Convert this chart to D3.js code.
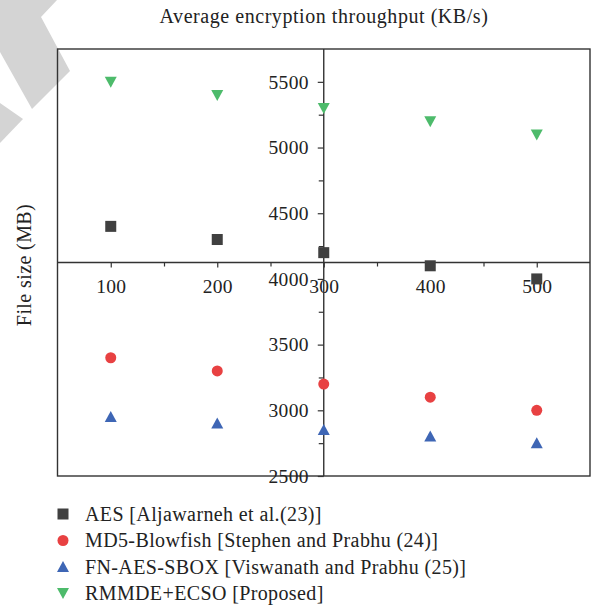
<!DOCTYPE html>
<html>
<head>
<meta charset="utf-8">
<script src="https://cdn.jsdelivr.net/npm/d3@7/dist/d3.min.js"></script>
<style>
  html, body { margin: 0; padding: 0; background: #fff; }
  svg { display: block; }
  text { font-family: "Liberation Serif", "DejaVu Serif", serif; fill: #222; }
</style>
</head>
<body>
<svg id="chart" width="597" height="607"></svg>
<script>
// File sizes (MB) on the horizontal axis
const fileSizes = [100, 200, 300, 400, 500];

// Average encryption throughput (KB/s) per method
const aesValues      = [4400, 4300, 4200, 4100, 4000];
const md5Values      = [3400, 3300, 3200, 3100, 3000];
const fnAesValues    = [2950, 2900, 2850, 2800, 2750];
const rmmdeValues    = [5500, 5400, 5300, 5200, 5100];

const seriesNames = [
  "AES [Aljawarneh et al.(23)]",
  "MD5-Blowfish [Stephen and Prabhu (24)]",
  "FN-AES-SBOX [Viswanath and Prabhu (25)]",
  "RMMDE+ECSO [Proposed]"
];

const xTicks = [100, 200, 300, 400, 500];
const xMinorTicks = [150, 250, 350, 450];
const yTicks = [2500, 3000, 3500, 4000, 4500, 5000, 5500];
const yMinorTicks = [2750, 3250, 3750, 4250, 4750, 5250];

const series = [
  { name: seriesNames[0], values: aesValues,   color: "#404040", symbol: "square" },
  { name: seriesNames[1], values: md5Values,   color: "#e84142", symbol: "circle" },
  { name: seriesNames[2], values: fnAesValues, color: "#3e66b5", symbol: "up" },
  { name: seriesNames[3], values: rmmdeValues, color: "#4dbb6b", symbol: "down" }
];

const svg = d3.select("#chart");

// light grey decorative chevron in the top-left corner
svg.append("polygon")
  .attr("points", "0,0 57,0 41,17 70,71 32,109 0,52")
  .attr("fill", "#d4d4d4");
svg.append("polygon")
  .attr("points", "0,103 23,119 0,143")
  .attr("fill", "#d4d4d4");

const frame = { left: 57.5, right: 590, top: 49, bottom: 476 };

const x = d3.scaleLinear().domain([50, 550]).range([frame.left, frame.right]);
const y = d3.scaleLinear().domain([2500, 5750]).range([frame.bottom, frame.top]);

// plot frame
svg.append("rect")
  .attr("x", frame.left).attr("y", frame.top)
  .attr("width", frame.right - frame.left).attr("height", frame.bottom - frame.top)
  .attr("fill", "none").attr("stroke", "#333").attr("stroke-width", 1.4);

const axisX = x(300);       // vertical axis crosses at x = 300
const axisY = y(4125);      // horizontal axis crosses mid-frame

const tickFont = 19.5;
const labelFont = 20;

// horizontal axis
const gx = svg.append("g").attr("transform", `translate(0,${axisY})`);
gx.call(d3.axisBottom(x).tickValues(xTicks).tickSize(5).tickPadding(12).tickFormat(d3.format("d")));
gx.append("g").call(d3.axisBottom(x).tickValues(xMinorTicks).tickSize(4).tickFormat(""));
gx.selectAll(".domain").remove();
gx.append("line").attr("x1", frame.left).attr("x2", frame.right)
  .attr("stroke", "#333").attr("stroke-width", 1.4);

// vertical axis
const gy = svg.append("g").attr("transform", `translate(${axisX},0)`);
gy.call(d3.axisLeft(y).tickValues(yTicks).tickSize(6).tickPadding(9).tickFormat(d3.format("d")));
gy.append("g").call(d3.axisLeft(y).tickValues(yMinorTicks).tickSize(5).tickFormat(""));
gy.selectAll(".domain").remove();
gy.append("line").attr("y1", frame.top).attr("y2", frame.bottom)
  .attr("stroke", "#333").attr("stroke-width", 1.4);

svg.selectAll(".tick line").attr("stroke", "#333").attr("stroke-width", 1.2);
svg.selectAll(".tick text")
  .style("font-family", '"Liberation Serif", "DejaVu Serif", serif')
  .style("font-size", tickFont + "px")
  .style("letter-spacing", "0.3px")
  .attr("fill", "#222");

// title and axis label
svg.append("text")
  .attr("x", 324).attr("y", 23)
  .attr("text-anchor", "middle")
  .style("font-size", labelFont + "px")
  .style("letter-spacing", "0.55px")
  .text("Average encryption throughput (KB/s)");

svg.append("text")
  .attr("transform", `translate(31,${265}) rotate(-90)`)
  .attr("text-anchor", "middle")
  .style("font-size", labelFont + "px")
  .style("letter-spacing", "0.4px")
  .text("File size (MB)");

// marker shapes
function drawMarker(g, symbol, cx, cy, color) {
  if (symbol === "square") {
    g.append("rect").attr("x", cx - 5.5).attr("y", cy - 5.5)
      .attr("width", 11).attr("height", 11).attr("fill", color);
  } else if (symbol === "circle") {
    g.append("circle").attr("cx", cx).attr("cy", cy).attr("r", 5.5).attr("fill", color);
  } else if (symbol === "up") {
    g.append("path")
      .attr("d", `M${cx},${cy - 6} L${cx + 6},${cy + 5} L${cx - 6},${cy + 5} Z`)
      .attr("fill", color);
  } else {
    g.append("path")
      .attr("d", `M${cx - 6},${cy - 5} L${cx + 6},${cy - 5} L${cx},${cy + 6} Z`)
      .attr("fill", color);
  }
}

const marks = svg.append("g");
series.forEach(s => {
  s.values.forEach((v, i) => {
    drawMarker(marks, s.symbol, x(fileSizes[i]), y(v), s.color);
  });
});

// legend
const legend = svg.append("g");
const legendRows = [514, 540.5, 567, 593];
series.forEach((s, i) => {
  drawMarker(legend, s.symbol, 63, legendRows[i], s.color);
  legend.append("text")
    .attr("x", 85).attr("y", legendRows[i])
    .attr("dy", "0.33em")
    .style("font-size", labelFont + "px")
    .style("letter-spacing", "0.38px")
    .text(s.name);
});
</script>
</body>
</html>
